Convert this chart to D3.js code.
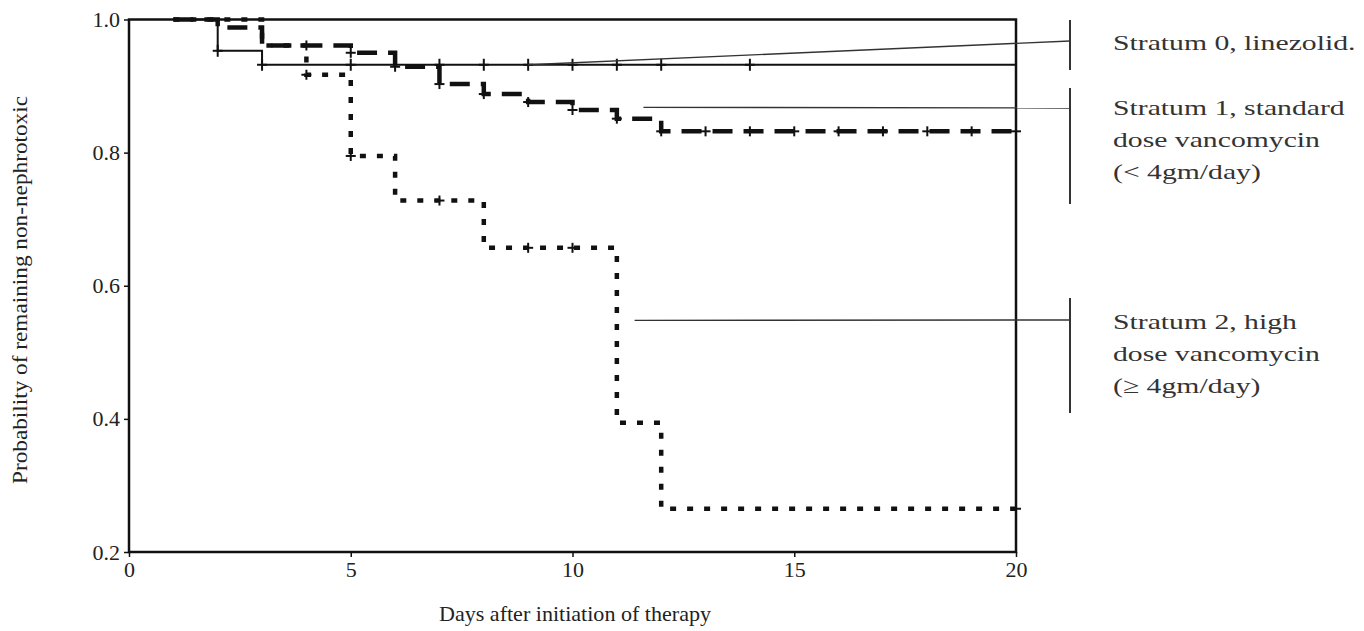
<!DOCTYPE html>
<html>
<head>
<meta charset="utf-8">
<script src="https://cdn.jsdelivr.net/npm/d3@7"></script>
<style>
    body { margin: 0; background: #fff; }
    svg text { font-family: "Liberation Serif", "Times New Roman", serif; fill: #222; }
</style>
</head>
<body>
<div id="chart"></div>
<script>
// Kaplan-Meier step data (day, survival)
var stratum0Days = [1, 2, 3, 20];
var stratum0Surv = [1.0, 0.953, 0.932, 0.932];
var stratum0Censor = [2, 3, 5, 7, 8, 9, 10, 11, 12, 14];

var stratum1Days = [1, 2, 3, 5, 6, 7, 8, 9, 10, 11, 12, 20];
var stratum1Surv = [1.0, 0.988, 0.961, 0.95, 0.929, 0.903, 0.888, 0.876, 0.864, 0.851, 0.832, 0.832];
var stratum1Censor = [4, 5, 6, 7, 8, 9, 10, 11, 12, 13, 14, 15, 16, 17, 18, 19, 20];

var stratum2Days = [1, 3, 4, 5, 6, 8, 11, 12, 20];
var stratum2Surv = [1.0, 0.961, 0.917, 0.795, 0.728, 0.657, 0.394, 0.265, 0.265];
var stratum2Censor = [4, 5, 7, 9, 10, 20];

var xTicks = [0, 5, 10, 15, 20];
var yTicks = [0.2, 0.4, 0.6, 0.8, 1.0];

var stratumLabels = [
    ["Stratum 0, linezolid."],
    ["Stratum 1, standard", "dose vancomycin", "(< 4gm/day)"],
    ["Stratum 2, high", "dose vancomycin", "(\u2265 4gm/day)"]
];

var svg = d3.select("#chart").append("svg")
    .attr("width", 1364)
    .attr("height", 631);

var x = d3.scaleLinear().domain([0, 20]).range([129, 1016]);
var y = d3.scaleLinear().domain([0.2, 1.0]).range([552, 19.5]);

// frame
svg.append("rect")
    .attr("x", x(0)).attr("y", y(1.0))
    .attr("width", x(20) - x(0)).attr("height", y(0.2) - y(1.0))
    .style("fill", "none").style("stroke", "#111").style("stroke-width", 2.5);

// axes
var xAxis = svg.append("g")
    .attr("transform", "translate(0," + y(0.2) + ")")
    .call(d3.axisBottom(x).tickValues(xTicks).tickSize(5).tickPadding(4).tickFormat(d3.format("d")));
var yAxis = svg.append("g")
    .attr("transform", "translate(" + x(0) + ",0)")
    .call(d3.axisLeft(y).tickValues(yTicks).tickSize(5).tickPadding(4).tickFormat(d3.format(".1f")));
[xAxis, yAxis].forEach(function (a) {
    a.select(".domain").remove();
    a.selectAll(".tick line").style("stroke", "#111").style("stroke-width", 1.5);
    a.selectAll(".tick text").style("font-size", "22px").style("fill", "#222")
        .style("font-family", "Liberation Serif, serif");
});

svg.append("text")
    .attr("x", 575).attr("y", 621)
    .attr("text-anchor", "middle")
    .attr("textLength", 272)
    .attr("lengthAdjust", "spacingAndGlyphs")
    .style("font-size", "21px")
    .text("Days after initiation of therapy");

svg.append("text")
    .attr("transform", "translate(27,290) rotate(-90)")
    .attr("text-anchor", "middle")
    .attr("textLength", 388)
    .attr("lengthAdjust", "spacingAndGlyphs")
    .style("font-size", "20px")
    .text("Probability of remaining non-nephrotoxic");

// curves
function stepAt(days, surv, t) {
    var v = surv[0];
    for (var i = 0; i < days.length; i++) {
        if (days[i] <= t) v = surv[i];
    }
    return v;
}

var line = d3.line()
    .x(function (d) { return x(d[0]); })
    .y(function (d) { return y(d[1]); })
    .curve(d3.curveStepAfter);

var series = [
    { days: stratum0Days, surv: stratum0Surv, censor: stratum0Censor, width: 2, dash: null, tick: 6 },
    { days: stratum1Days, surv: stratum1Surv, censor: stratum1Censor, width: 4.5, dash: "20,11", tick: 5 },
    { days: stratum2Days, surv: stratum2Surv, censor: stratum2Censor, width: 4.5, dash: "6,11", tick: 5 }
];

series.forEach(function (s) {
    var pts = d3.zip(s.days, s.surv);
    svg.append("path")
        .attr("d", line(pts))
        .style("fill", "none")
        .style("stroke", "#111")
        .style("stroke-width", s.width)
        .style("stroke-dasharray", s.dash);

    var marks = svg.append("g");
    s.censor.forEach(function (t) {
        var cx = x(t), cy = y(stepAt(s.days, s.surv, t));
        marks.append("line")
            .attr("x1", cx).attr("x2", cx).attr("y1", cy - s.tick).attr("y2", cy + s.tick)
            .style("stroke", "#111").style("stroke-width", 2);
        marks.append("line")
            .attr("x1", cx - 5).attr("x2", cx + 5).attr("y1", cy).attr("y2", cy)
            .style("stroke", "#111").style("stroke-width", 2);
    });
});

// label leaders and brackets
var bracketX = 1070;
var leaders = [
    { from: [9, 0.932], toY: 41, top: 20, bottom: 70 },
    { from: [11.6, 0.868], toY: 108, top: 88, bottom: 204 },
    { from: [11.4, 0.548], toY: 320, top: 298, bottom: 413 }
];
var labelTop = [43, 108, 322];

leaders.forEach(function (l, i) {
    svg.append("line")
        .attr("x1", x(l.from[0])).attr("y1", y(l.from[1]))
        .attr("x2", bracketX).attr("y2", l.toY)
        .style("stroke", "#333").style("stroke-width", 1.4);
    svg.append("line")
        .attr("x1", bracketX).attr("x2", bracketX)
        .attr("y1", l.top).attr("y2", l.bottom)
        .style("stroke", "#333").style("stroke-width", 2);

    var t = svg.append("text")
        .attr("transform", "translate(1113," + (labelTop[i] + 7) + ") scale(1.35,1)")
        .style("font-size", "22px")
        .style("fill", "#333");
    stratumLabels[i].forEach(function (s, j) {
        t.append("tspan").attr("x", 0).attr("dy", j === 0 ? 0 : 32).text(s);
    });
});
</script>
</body>
</html>
